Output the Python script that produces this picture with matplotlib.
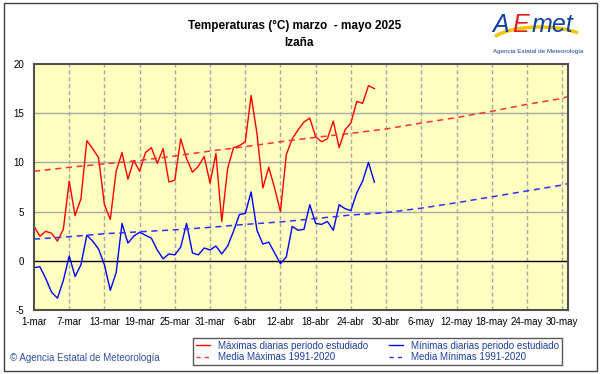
import numpy as np
import matplotlib
matplotlib.use("Agg")
import matplotlib.pyplot as plt
from matplotlib.lines import Line2D
from matplotlib.patches import Rectangle, Arc

plt.rcParams['font.family'] = ['Liberation Sans', 'DejaVu Sans']
plt.rcParams['axes.unicode_minus'] = False

# --- datos ---
tick_days = [0, 6, 12, 18, 24, 30, 36, 42, 48, 54, 60, 66, 72, 78, 84, 90]
tick_labels = ['1-mar', '7-mar', '13-mar', '19-mar', '25-mar', '31-mar', '6-abr', '12-abr',
               '18-abr', '24-abr', '30-abr', '6-may', '12-may', '18-may', '24-may', '30-may']

tmax = [3.5, 2.5, 3.0, 2.8, 2.0, 3.2, 8.1, 4.6, 6.3, 12.2,
        11.4, 10.5, 5.7, 4.2, 9.1, 11.0, 8.3, 10.2, 9.1, 11.0,
        11.5, 9.9, 11.4, 8.0, 8.2, 12.4, 10.4, 9.0, 9.6, 10.6,
        7.9, 10.9, 4.0, 9.4, 11.5, 11.7, 12.1, 16.8, 12.9, 7.4,
        9.5, 7.4, 5.0, 10.8, 12.4, 13.3, 14.1, 14.5, 12.6, 12.1,
        12.4, 14.2, 11.5, 13.3, 14.0, 16.2, 16.0, 17.8, 17.5]

tmin = [-0.7, -0.6, -1.8, -3.2, -3.8, -2.0, 0.5, -1.6, -0.4, 2.6,
        2.0, 1.2, -0.4, -3.0, -1.2, 3.8, 1.8, 2.5, 2.9, 2.6,
        2.3, 1.1, 0.2, 0.7, 0.6, 1.4, 3.8, 0.8, 0.6, 1.3,
        1.1, 1.5, 0.7, 1.5, 3.0, 4.7, 4.8, 7.0, 3.1, 1.7,
        1.9, 0.8, -0.3, 0.4, 3.5, 3.1, 3.2, 5.7, 3.8, 3.7,
        4.0, 3.1, 5.7, 5.3, 5.1, 6.9, 8.1, 10.0, 8.0]

mean_days = tick_days + [91]
mean_max = [9.1, 9.5, 9.85, 10.2, 10.65, 11.15, 11.6, 12.1, 12.55, 12.95,
            13.4, 14.0, 14.55, 15.2, 15.9, 16.5, 16.7]
mean_min = [2.2, 2.45, 2.75, 2.95, 3.15, 3.4, 3.7, 3.95, 4.3, 4.65,
            4.9, 5.35, 5.9, 6.5, 7.1, 7.7, 7.85]

W, H = 601, 374
fig = plt.figure(figsize=(W / 100, H / 100), dpi=100)

# marco exterior
fig.patches.append(Rectangle((4 / W, 3 / H), 593 / W, 368 / H, transform=fig.transFigure,
                             fill=False, edgecolor='#404040', lw=1))

ax = fig.add_axes([34 / W, 1 - 310 / H, (568 - 34) / W, (310 - 64) / H])
ax.set_facecolor('#FFFFBF')

days = np.arange(len(tmax))
ax.plot(days, tmax, color='#FF0000', lw=1)
ax.plot(days, tmin, color='#0000FF', lw=1)
ax.plot(mean_days, mean_max, color='#FF3030', lw=1.1, dashes=(4, 3))
ax.plot(mean_days, mean_min, color='#3030FF', lw=1.1, dashes=(4, 3))

ax.set_xlim(0, 91)
ax.set_ylim(-5, 20)
ax.set_xticks(tick_days)
ax.set_xticklabels(tick_labels)
ax.set_yticks([-5, 0, 5, 10, 15, 20])
ax.tick_params(length=0, labelsize=7)
ax.tick_params(axis='x', pad=5)
ax.tick_params(axis='y', pad=7)

for v in [5, 10, 15]:
    ax.axhline(v, color='#A8A8A8', lw=1, zorder=0.5)
for d in tick_days[1:]:
    ax.axvline(d, color='#A8A8A8', lw=1, ls=(0, (3, 2)), zorder=0.5)
ax.axhline(0, color='black', lw=1, zorder=1)

for s in ax.spines.values():
    s.set_color('#505050')
    s.set_linewidth(1.5)

# títulos
fig.text(0.49, 1 - 26 / H, 'Temperaturas (°C) marzo  - mayo 2025', ha='center', va='center',
         fontsize=8.5, fontweight='bold')
fig.text(0.497, 1 - 43 / H, 'Izaña', ha='center', va='center', fontsize=8.5, fontweight='bold')

# logo AEMET aproximado
fig.patches.append(Arc((540 / W, 1 - 44 / H), 100 / W, 34 / H, theta1=25, theta2=165,
                       transform=fig.transFigure, color='#F5C400', lw=2.5))
fig.text(492 / W, 1 - 25 / H, 'A', color='#1040A0', fontsize=18, style='italic', va='center')
fig.text(512 / W, 1 - 25 / H, 'E', color='#E02020', fontsize=18, style='italic', va='center')
fig.text(532 / W, 1 - 25 / H, 'met', color='#1040A0', fontsize=18, style='italic', va='center')
fig.text(538 / W, 1 - 51 / H, 'Agencia Estatal de Meteorología', color='#1040A0', fontsize=4.5,
         ha='center', va='center')

# leyenda
handles = [Line2D([], [], color='#FF0000', lw=1),
           Line2D([], [], color='#FF3030', lw=1, dashes=(3, 3)),
           Line2D([], [], color='#0000FF', lw=1),
           Line2D([], [], color='#3030FF', lw=1, dashes=(3, 3))]
labels = ['Máximas diarias periodo estudiado', 'Media Máximas 1991-2020',
          'Mínimas diarias periodo estudiado', 'Media Mínimas 1991-2020']
leg = fig.legend(handles, labels, loc='lower left', ncol=2, mode='expand',
                 bbox_to_anchor=(188 / W, 4 / H, (567 - 188) / W, 34 / H),
                 fontsize=7, frameon=True, fancybox=False, handlelength=1.5,
                 handletextpad=0.8, labelspacing=0.15, borderpad=0.3, columnspacing=2)
leg.get_frame().set_edgecolor('#303030')
leg.get_frame().set_linewidth(1)
for t in leg.get_texts():
    t.set_color('#1F3F9F')

fig.text(10 / W, 1 - 358 / H, '© Agencia Estatal de Meteorología', color='#3050A0', fontsize=7,
         va='center')

fig.savefig('out.png', dpi=100)
